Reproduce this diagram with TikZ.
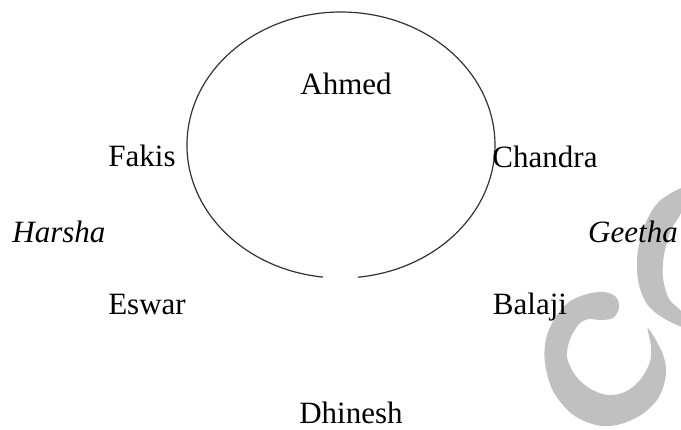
\documentclass[tikz,border=0pt]{standalone}
\usepackage{fontspec}
\setmainfont{Liberation Serif}
\begin{document}
\begin{tikzpicture}[x=1pt,y=-1pt,
  lbl/.style={font=\fontsize{31}{36}\selectfont, inner sep=0pt, anchor=base},
  ilbl/.style={font=\fontsize{31}{36}\selectfont\itshape, inner sep=0pt, anchor=base},
  ring/.style={draw=black!80, line width=1.2pt},
  wmark/.style={fill=wm}]
\definecolor{wm}{RGB}{192,192,192}
\useasboundingbox (0,0) rectangle (681,430);
\fill[white] (0,0) rectangle (681,430);
% watermark
\begin{scope}
\clip (0,0) rectangle (681,430);
\fill[wmark] plot[smooth cycle, tension=0.55] coordinates {
 (648,328) (662,352) (666,373) (659,397) (641,415) (617,425) (596,425)
 (572,414) (553,391) (545,363) (546,339) (555,318) (569,302) (587,294)
 (604,292) (616,297) (619,308) (613,318) (600,320) (589,319)
 (579,324) (570,339) (567,357) (575,375) (589,388) (607,395) (625,392)
 (640,380) (650,362) (651,346)};
\fill[wmark] plot[smooth cycle, tension=0.55] coordinates {
 (690,186) (662,199) (647,220) (638,250) (638,280) (647,304) (665,319) (690,329)
 (681,311) (669,299) (663,278) (664,255) (671,230) (681,213)};
\end{scope}
% circle with gap at the bottom
\coordinate (c) at (341,145);
\draw[ring] (323.0,277.1) arc[start angle=96.7, end angle=443.7, x radius=154, y radius=133];
% names
\node[lbl]  (ahmed)   at (346,95)  {Ahmed};
\node[lbl]  (fakis)   at (142,167) {Fakis};
\node[lbl]  (chandra) at (545,168) {Chandra};
\node[ilbl] (harsha)  at (59,243)  {Harsha};
\node[ilbl] (geetha)  at (633,243) {Geetha};
\node[lbl]  (eswar)   at (147,315) {Eswar};
\node[lbl]  (balaji)  at (530,315) {Balaji};
\node[lbl]  (dhinesh) at (351,424) {Dhinesh};
\end{tikzpicture}
\end{document}
